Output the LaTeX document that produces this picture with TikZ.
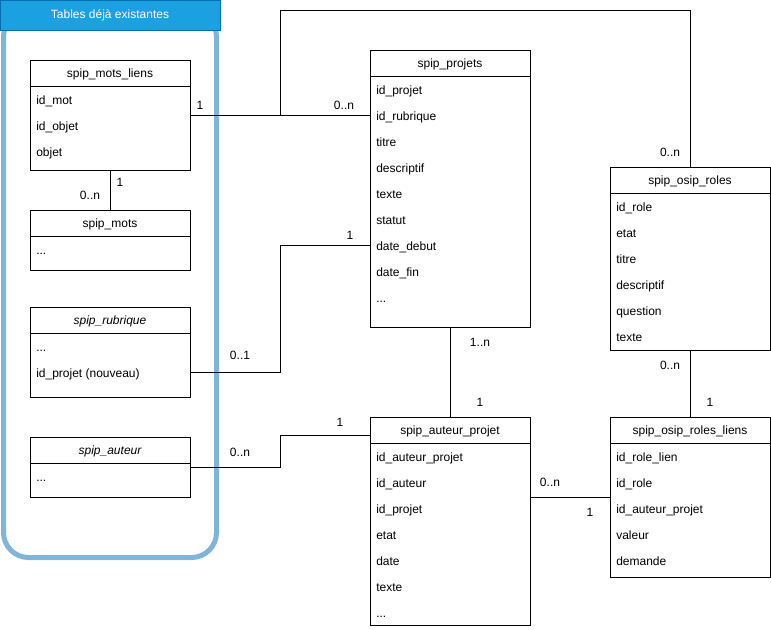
\documentclass[tikz,border=0pt]{standalone}
\usepackage{fontspec}
\setmainfont{Liberation Sans}
\usetikzlibrary{calc}
\definecolor{hdrfill}{HTML}{1BA1E2}
\definecolor{hdrline}{HTML}{006EAF}
\definecolor{contline}{HTML}{7FB5DA}
\newcommand\threedots{...}
\tikzset{
  tblbox/.style={draw=black, line width=0.75pt, fill=white, minimum width=120pt, inner sep=0pt, outer sep=0pt, anchor=north west},
  txt/.style={font=\fontsize{9}{10.8}\selectfont, inner sep=0pt, text height=6.5pt, text depth=1.9pt},
  hdr/.style={txt},
  rowtxt/.style={txt, anchor=west},
  lbl/.style={txt, yshift=-1.1pt},
  conn/.style={draw=black, line width=0.75pt}
}
\newcommand\erTable[6]{%
  \node[tblbox, minimum height=#4*0.75pt] (#1) at (#2,#3) {};
  \draw[line width=0.75pt] (#1.north west) ++(0,26) -- ++(160,0);
  \node[hdr] at ($(#1.north west)+(80,14.8)$) {#5};
  \foreach \t [count=\i] in {#6} {\node[rowtxt] at ($(#1.north west)+(6,15+26*\i)$) {\t};}
}
\begin{document}
\begin{tikzpicture}[x=0.75pt,y=-0.75pt]
\useasboundingbox (0,0) rectangle (771,629);
% container
\draw[contline, line width=3.75pt, rounded corners=18.75pt] (3.5,12) rectangle (216.5,557.5);
\node[fill=hdrfill, draw=hdrline, line width=0.75pt, minimum width=165pt, minimum height=22.5pt, inner sep=0pt, text=white, font=\fontsize{9}{10.8}\selectfont] (cont) at (110,15) {Tables déjà existantes};
% tables
\erTable{ml}{30}{60}{110}{spip\_mots\_liens}{id\_mot,id\_objet,objet}
\erTable{mots}{30}{210}{60}{spip\_mots}{\threedots}
\erTable{rub}{30}{307}{90}{\itshape spip\_rubrique}{\threedots,id\_projet (nouveau)}
\erTable{aut}{30}{437}{60}{\itshape spip\_auteur}{\threedots}
\erTable{proj}{370}{50}{277}{spip\_projets}{id\_projet,id\_rubrique,titre,descriptif,texte,statut,date\_debut,date\_fin,\threedots}
\erTable{roles}{610}{167}{183}{spip\_osip\_roles}{id\_role,etat,titre,descriptif,question,texte}
\erTable{ap}{370}{417}{208}{spip\_auteur\_projet}{id\_auteur\_projet,id\_auteur,id\_projet,etat,date,texte,\threedots}
\erTable{rl}{610}{417}{160}{spip\_osip\_roles\_liens}{id\_role\_lien,id\_role,id\_auteur\_projet,valeur,demande}
% helper coordinates
\coordinate (j1) at (280,115);
\coordinate (j2) at (280,10);
\coordinate (r1) at (190,372);
\coordinate (p245) at (370,245);
\coordinate (a435) at (370,435);
\coordinate (ap497) at (530,497);
\coordinate (rl497) at (610,497);
% connectors
\draw[conn] (ml.east) -- (ml.east -| proj.west);
\draw[conn] (j1) -- (j2) -| (roles.north);
\draw[conn] (ml.south) -- (mots.north);
\draw[conn] (r1) -- ++(90,0) |- (p245);
\draw[conn] (aut.east) -- ++(90,0) |- (a435);
\draw[conn] (proj.south) -- (ap.north);
\draw[conn] (roles.south) -- (rl.north);
\draw[conn] (ap497) -- (rl497);
% labels
\node[lbl] at (200,105) {1};
\node[lbl] at (344,105) {0..n};
\node[lbl] at (670,152) {0..n};
\node[lbl] at (120,182) {1};
\node[lbl] at (90,195) {0..n};
\node[lbl] at (240,355) {0..1};
\node[lbl] at (350,235) {1};
\node[lbl] at (240,452) {0..n};
\node[lbl] at (340,422) {1};
\node[lbl] at (480,342) {1..n};
\node[lbl] at (480,402) {1};
\node[lbl] at (670,365) {0..n};
\node[lbl] at (710,402) {1};
\node[lbl] at (550,482) {0..n};
\node[lbl] at (590,512) {1};
\end{tikzpicture}
\end{document}
